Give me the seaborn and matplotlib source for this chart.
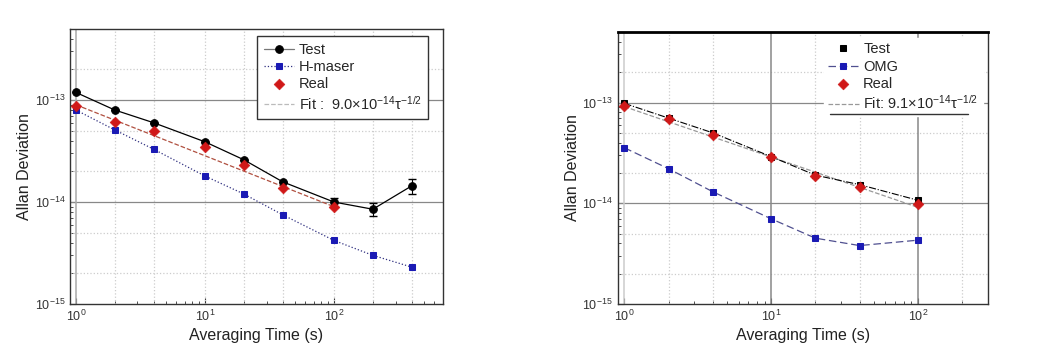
import numpy as np
import pandas as pd
import matplotlib
matplotlib.use("Agg")
import matplotlib.pyplot as plt
import seaborn as sns
from matplotlib.ticker import FixedLocator, NullFormatter, LogFormatterSciNotation

# left panel
tau_left = [1, 2, 4, 10, 20, 40, 100, 200, 400]
test_left = [1.19e-13, 0.80e-13, 0.60e-13, 0.39e-13, 0.26e-13, 1.58e-14, 1.0e-14, 0.85e-14, 1.44e-14]
test_left_err = [0, 0, 0, 0, 0, 0, 0.1e-14, 0.12e-14, 0.23e-14]
hmaser_left = [0.80e-13, 0.51e-13, 0.33e-13, 0.18e-13, 0.12e-13, 7.5e-15, 4.2e-15, 3.0e-15, 2.3e-15]
tau_real_left = [1, 2, 4, 10, 20, 40, 100]
real_left = [0.87e-13, 0.61e-13, 0.50e-13, 0.35e-13, 0.23e-13, 1.37e-14, 0.90e-14]
fit_left_coef = 9.0e-14

# right panel
tau_right = [1, 2, 4, 10, 20, 40, 100]
test_right = [0.98e-13, 0.70e-13, 0.50e-13, 0.29e-13, 0.19e-13, 1.53e-14, 1.07e-14]
omg_right = [0.355e-13, 0.22e-13, 0.13e-13, 7.0e-15, 4.5e-15, 3.8e-15, 4.3e-15]
real_right = [0.92e-13, 0.68e-13, 0.48e-13, 0.29e-13, 0.186e-13, 1.44e-14, 0.985e-14]
fit_right_coef = 9.1e-14

fit_tau = [1, 2, 4, 10, 20, 40, 100]

x_major = [1, 10, 100]
x_grid = [2, 4, 20, 40, 200, 400]
y_major = [1e-15, 1e-14, 1e-13]
y_grid = [2e-15, 5e-15, 2e-14, 5e-14, 2e-13]

sns.set_style("ticks")
plt.rcParams['font.family'] = ['Liberation Sans', 'DejaVu Sans']
plt.rcParams['mathtext.fontset'] = 'custom'
plt.rcParams['mathtext.rm'] = 'Liberation Sans'
plt.rcParams['mathtext.it'] = 'Liberation Sans'

fig = plt.figure(figsize=(10.4, 3.61), dpi=100)
ax1 = fig.add_axes([0.0673, 0.158, 0.3587, 0.762])
ax2 = fig.add_axes([0.594, 0.158, 0.356, 0.753])


def style_axes(ax, xmax, solid_v, dotted_v):
    ax.set_xscale('log')
    ax.set_yscale('log')
    ax.set_xlim(0.9, xmax)
    ax.set_ylim(1e-15, 5e-13)
    x_minor = [m * d for d in [1, 10, 100] for m in range(2, 10) if m * d < xmax]
    y_minor = [m * d for d in [1e-15, 1e-14, 1e-13] for m in range(2, 10) if m * d < 5e-13]
    ax.xaxis.set_major_locator(FixedLocator(x_major))
    ax.xaxis.set_minor_locator(FixedLocator(x_minor))
    ax.yaxis.set_major_locator(FixedLocator(y_major))
    ax.yaxis.set_minor_locator(FixedLocator(y_minor))
    ax.xaxis.set_major_formatter(LogFormatterSciNotation())
    ax.yaxis.set_major_formatter(LogFormatterSciNotation())
    ax.xaxis.set_minor_formatter(NullFormatter())
    ax.yaxis.set_minor_formatter(NullFormatter())
    ax.tick_params(which='both', direction='in', labelsize=9, colors='#333333')
    ax.tick_params(which='major', length=4)
    ax.tick_params(which='minor', length=2.5)
    for x in x_grid + dotted_v:
        if x < xmax:
            ax.axvline(x, color='#cccccc', linestyle=':', linewidth=0.9, zorder=1)
    for y in y_grid:
        ax.axhline(y, color='#cccccc', linestyle=':', linewidth=0.9, zorder=1)
    for y in [1e-14, 1e-13]:
        ax.axhline(y, color='#888888', linewidth=0.9, zorder=1)
    for x, c in solid_v:
        ax.axvline(x, color=c, linewidth=1.1, zorder=1)
    for s in ax.spines.values():
        s.set_color('#333333')
        s.set_linewidth(1.0)
    ax.set_xlabel('Averaging Time (s)', fontsize=11.5, color='#222222', labelpad=3)
    ax.set_ylabel('Allan Deviation', fontsize=11.5, color='#222222', labelpad=2)


# ---- left ----
style_axes(ax1, 700, [(1, '#aaaaaa')], [10, 100])
sns.lineplot(x=tau_left, y=test_left, ax=ax1, color='black', marker='o', markersize=5.5,
             linewidth=0.9, markeredgecolor='black', label='Test', zorder=5)
ax1.errorbar(tau_left, test_left, yerr=test_left_err, fmt='none', ecolor='black',
             elinewidth=0.8, capsize=3, zorder=5)
sns.lineplot(x=tau_left, y=hmaser_left, ax=ax1, color='#303080', marker='s', markersize=5,
             markerfacecolor='#1a1ab4', markeredgecolor='#1a1ab4', linewidth=0.9,
             linestyle=':', label='H-maser', zorder=4)
sns.scatterplot(x=tau_real_left, y=real_left, ax=ax1, color='#d01818', marker='D', s=30,
                edgecolor='#d01818', label='Real', zorder=6)
fit_left = [fit_left_coef * t ** -0.5 for t in fit_tau]
sns.lineplot(x=fit_tau, y=fit_left, ax=ax1, color='#b05040', linestyle='--', linewidth=0.9,
             label='Fit :  9.0×10$^{-14}$τ$^{-1/2}$', zorder=3)
leg1 = ax1.legend(loc='upper right', bbox_to_anchor=(0.98, 1.0), fontsize=10.5,
                  frameon=True, fancybox=False, edgecolor='#333333', framealpha=1,
                  borderpad=0.45, handlelength=2.1, labelspacing=0.22, handletextpad=0.3)
leg1.get_frame().set_linewidth(1.0)
leg1.set_zorder(10)
leg1.legend_handles[0].set_color('#777777')
leg1.legend_handles[0].set_markerfacecolor('black')
leg1.legend_handles[0].set_markeredgecolor('black')
leg1.legend_handles[3].set_color('#bbbbbb')

# ---- right ----
style_axes(ax2, 300, [(1, '#cccccc'), (10, '#888888'), (100, '#888888')], [])
sns.lineplot(x=tau_right, y=test_right, ax=ax2, color='black', marker='s', markersize=5,
             markeredgecolor='black', linewidth=0.8, linestyle='-.', label='Test', zorder=5)
sns.lineplot(x=tau_right, y=omg_right, ax=ax2, color='#505090', marker='s', markersize=5,
             markerfacecolor='#1a1ab4', markeredgecolor='#1a1ab4', linewidth=0.9,
             linestyle=(0, (6, 3)), label='OMG', zorder=4)
sns.scatterplot(x=tau_right, y=real_right, ax=ax2, color='#d01818', marker='D', s=30,
                edgecolor='#d01818', label='Real', zorder=6)
fit_right = [fit_right_coef * t ** -0.5 for t in fit_tau]
sns.lineplot(x=fit_tau, y=fit_right, ax=ax2, color='#999999', linestyle='--', linewidth=0.9,
             label='Fit: 9.1×10$^{-14}$τ$^{-1/2}$', zorder=3)
leg2 = ax2.legend(loc='upper right', bbox_to_anchor=(1.005, 1.005), fontsize=10.5, frameon=True,
                  fancybox=False, edgecolor='white', framealpha=1, borderpad=0.3,
                  handlelength=2.1, labelspacing=0.22, handletextpad=0.3)
leg2.set_zorder(10)
leg2.legend_handles[0].set_linestyle('none')
ax2.plot([0.573, 0.946], [0.698, 0.698], transform=ax2.transAxes, color='#333333',
         linewidth=1.0, zorder=11)
ax2.spines['top'].set_linewidth(2.0)
ax2.spines['top'].set_color('black')

fig.savefig('out.png', dpi=100)
